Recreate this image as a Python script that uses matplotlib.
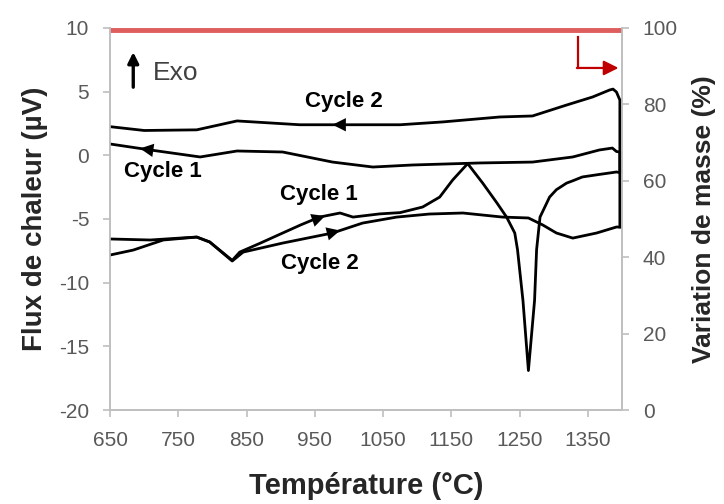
import numpy as np
import matplotlib.pyplot as plt

plt.rcParams['font.family'] = ['Liberation Sans', 'DejaVu Sans']
plt.rcParams['axes.unicode_minus'] = False

# DSC signal (µV) versus temperature (°C)
t_heat1 = [650, 709, 752, 777, 796, 829, 840, 870, 903, 930, 957, 987, 1006, 1045, 1075,
           1108, 1133, 1152, 1174, 1196, 1217, 1231, 1243, 1247, 1255, 1263, 1272, 1275,
           1280, 1294, 1304, 1319, 1328, 1342, 1367, 1392, 1397]
q_heat1 = [-6.57, -6.65, -6.5, -6.42, -6.8, -8.25, -7.6, -6.9, -6.1, -5.45, -4.85, -4.53,
           -4.85, -4.6, -4.5, -4.06, -3.28, -1.94, -0.65, -2.18, -3.75, -4.85, -6.1, -7.4,
           -11.4, -16.9, -11.4, -7.4, -4.85, -3.28, -2.7, -2.18, -2.0, -1.7, -1.5,
           -1.31, -1.35]

t_cool1 = [1397, 1397, 1392, 1386, 1367, 1328, 1269, 1192, 1093, 1035, 976, 903,
           836, 782, 709, 650]
q_cool1 = [-1.35, 0.26, 0.3, 0.57, 0.42, -0.13, -0.53, -0.6, -0.76, -0.92, -0.53,
           0.26, 0.34, -0.13, 0.42, 0.89]

t_heat2 = [650, 684, 728, 777, 796, 829, 845, 903, 976, 1020, 1070, 1118, 1167, 1225,
           1263, 1284, 1304, 1328, 1363, 1392, 1397]
q_heat2 = [-7.83, -7.44, -6.65, -6.42, -6.81, -8.3, -7.6, -6.89, -6.1, -5.32, -4.85,
           -4.61, -4.53, -4.85, -4.92, -5.47, -6.1, -6.5, -6.1, -5.63, -5.63]

t_cool2 = [1397, 1397, 1392, 1387, 1382, 1357, 1319, 1269, 1221, 1137, 1075, 928,
           836, 777, 700, 650]
q_cool2 = [-5.63, 4.34, 4.97, 5.2, 5.13, 4.58, 3.95, 3.09, 3.01, 2.62, 2.4, 2.4,
           2.7, 2.0, 1.95, 2.25]

# mass variation (%)
t_mass = [650, 1400]
mass = [99.5, 99.5]

fig = plt.figure(figsize=(7.24, 5.04), dpi=100)
ax = fig.add_axes([0.152, 0.1865, 0.707, 0.758])
ax2 = ax.twinx()

grey = '#bfbfbf'
tick_col = '#595959'

for t, q in [(t_heat1, q_heat1), (t_cool1, q_cool1), (t_heat2, q_heat2), (t_cool2, q_cool2)]:
    ax.plot(t, q, color='black', lw=2.0, solid_joinstyle='round', zorder=3)

ax2.plot(t_mass, mass, color='#d94040', lw=3.5, alpha=0.85, solid_capstyle='butt')


# direction arrows placed on the curves
def arrow_on(t, q, t_tip, dt):
    tt = np.array(t, dtype=float)
    qq = np.array(q, dtype=float)
    order = np.argsort(tt)
    y_tip = np.interp(t_tip, tt[order], qq[order])
    y_back = np.interp(t_tip - dt, tt[order], qq[order])
    ax.annotate('', xy=(t_tip, y_tip), xytext=(t_tip - dt, y_back),
                arrowprops=dict(arrowstyle='-|>', color='black', lw=0,
                                mutation_scale=24, shrinkA=0, shrinkB=0), zorder=4)


arrow_on(t_cool2[2:], q_cool2[2:], 976, -25)
arrow_on(t_cool1[2:], q_cool1[2:], 694, -25)
arrow_on(t_heat1[7:13], q_heat1[7:13], 965, 25)
arrow_on(t_heat2[7:12], q_heat2[7:12], 987, 25)

lab = dict(fontsize=16, fontweight='bold', ha='center', va='center', color='black')
ax.text(993, 4.19, 'Cycle 2', **lab)
ax.text(728, -1.31, 'Cycle 1', **lab)
ax.text(956, -3.04, 'Cycle 1', **lab)
ax.text(957, -8.46, 'Cycle 2', **lab)

# Exo arrow
ax.annotate('', xy=(684, 8.1), xytext=(684, 5.35),
            arrowprops=dict(arrowstyle='-|>', color='black', lw=2.4, mutation_scale=16,
                            shrinkA=0, shrinkB=0))
ax.text(713, 6.45, 'Exo', fontsize=19, color='#404040', ha='left', va='center')

# red pointer to the mass axis
ax.plot([1335, 1335], [9.3, 6.86], color='#c00000', lw=1.6)
ax.annotate('', xy=(1395, 6.86), xytext=(1334, 6.86),
            arrowprops=dict(arrowstyle='-|>', color='#c00000', lw=1.6, mutation_scale=22,
                            shrinkA=0, shrinkB=0))

ax.set_xlim(650, 1400)
ax.set_ylim(-20, 10)
ax2.set_ylim(0, 100)
ax.set_xticks(np.arange(650, 1400, 100))
ax.set_yticks(np.arange(-20, 11, 5))
ax2.set_yticks(np.arange(0, 101, 20))

for a in (ax, ax2):
    a.spines['top'].set_visible(False)
    for s in ('left', 'right', 'bottom'):
        a.spines[s].set_color(grey)
        a.spines[s].set_linewidth(1.2)
    a.tick_params(colors=grey, labelcolor=tick_col, labelsize=15, length=5, width=1.2, pad=10)

ax.set_xlabel('Température (°C)', fontsize=21, fontweight='bold', color='#262626', labelpad=16)
ax.set_ylabel('Flux de chaleur (µV)', fontsize=20, fontweight='bold', color='#262626', labelpad=8)
ax2.set_ylabel('Variation de masse (%)', fontsize=19, fontweight='bold', color='#262626', labelpad=10)

fig.savefig('out.png', dpi=100)
